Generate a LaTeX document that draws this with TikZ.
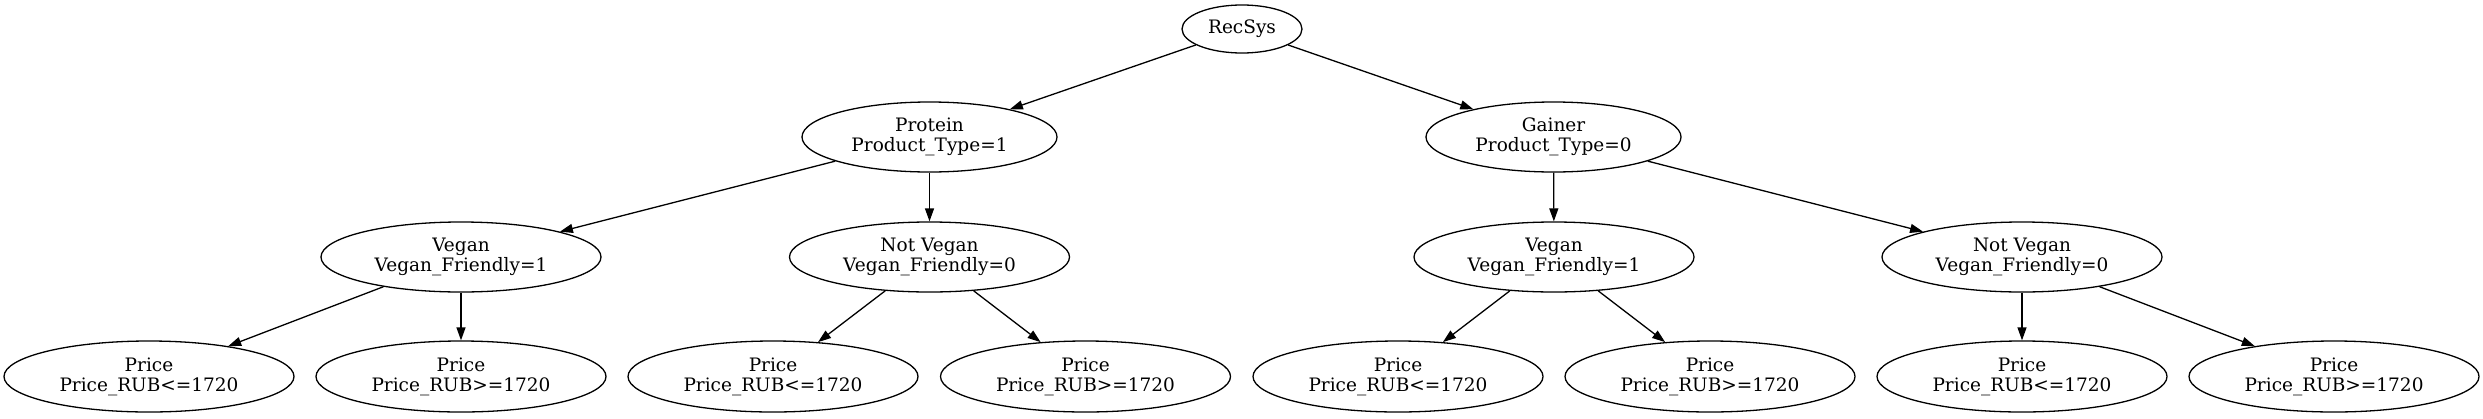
\documentclass[tikz,border=0pt]{standalone}
\usepackage{fontspec}
\setmainfont{DejaVu Serif}
\usetikzlibrary{shapes.geometric,arrows.meta}
\tikzset{
  gnode/.style={draw, ellipse, line width=1.3pt, inner sep=0pt, align=center,
    font=\fontsize{18.5}{20}\selectfont},
  rootnode/.style={gnode, minimum width=120pt, minimum height=48pt},
  midnode/.style={gnode, minimum width=255pt, minimum height=70pt},
  lvlnode/.style={gnode, minimum width=280pt, minimum height=70pt},
  leafnode/.style={gnode, minimum width=290pt, minimum height=71pt},
  edge/.style={line width=1.3pt, -{Triangle[length=13pt,width=9pt]}}
}
\begin{document}
\begin{tikzpicture}[x=1pt,y=-1pt]
\useasboundingbox[fill=white] (0,0) rectangle (2483,418);
\node[rootnode] (root) at (1242,29) {RecSys};
\node[midnode] (prot) at (929.5,137) {Protein\\Product\_Type=1};
\node[midnode] (gain) at (1553.5,137) {Gainer\\Product\_Type=0};
\node[lvlnode] (pv) at (461,257) {Vegan\\Vegan\_Friendly=1};
\node[lvlnode] (pn) at (929.5,257) {Not Vegan\\Vegan\_Friendly=0};
\node[lvlnode] (gv) at (1554,257) {Vegan\\Vegan\_Friendly=1};
\node[lvlnode] (gn) at (2022,257) {Not Vegan\\Vegan\_Friendly=0};
\node[leafnode] (l1) at (149,376.5) {Price\\Price\_RUB<=1720};
\node[leafnode] (l2) at (461,376.5) {Price\\Price\_RUB>=1720};
\node[leafnode] (l3) at (773,376.5) {Price\\Price\_RUB<=1720};
\node[leafnode] (l4) at (1085.5,376.5) {Price\\Price\_RUB>=1720};
\node[leafnode] (l5) at (1398,376.5) {Price\\Price\_RUB<=1720};
\node[leafnode] (l6) at (1710,376.5) {Price\\Price\_RUB>=1720};
\node[leafnode] (l7) at (2022,376.5) {Price\\Price\_RUB<=1720};
\node[leafnode] (l8) at (2334,376.5) {Price\\Price\_RUB>=1720};
\draw[edge] (root) -- (prot);
\draw[edge] (root) -- (gain);
\draw[edge] (prot) -- (pv);
\draw[edge] (prot) -- (pn);
\draw[edge] (gain) -- (gv);
\draw[edge] (gain) -- (gn);
\draw[edge] (pv) -- (l1);
\draw[edge] (pv) -- (l2);
\draw[edge] (pn) -- (l3);
\draw[edge] (pn) -- (l4);
\draw[edge] (gv) -- (l5);
\draw[edge] (gv) -- (l6);
\draw[edge] (gn) -- (l7);
\draw[edge] (gn) -- (l8);
\end{tikzpicture}
\end{document}
